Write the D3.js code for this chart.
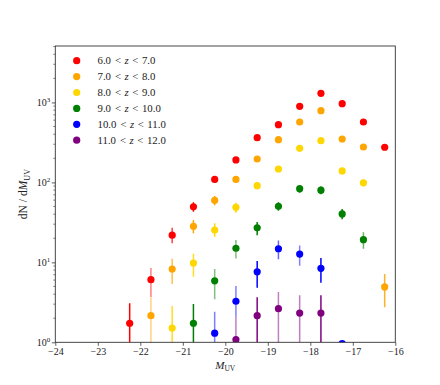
<!DOCTYPE html>
<html>
<head>
<meta charset="utf-8">
<script src="https://cdn.jsdelivr.net/npm/d3@7/dist/d3.min.js"></script>
<style>
  html, body { margin: 0; padding: 0; background: #fff; }
  svg { display: block; }
  text { font-family: "Liberation Serif", "DejaVu Serif", serif; fill: #222; }
</style>
</head>
<body>
<svg id="chart" width="440" height="385"></svg>
<script>
// ---------------- data ----------------
const bins = [-22.25, -21.75, -21.25, -20.75, -20.25, -19.75, -19.25, -18.75, -18.25, -17.75, -17.25, -16.75, -16.25];
const xTicks = [-24, -23, -22, -21, -20, -19, -18, -17, -16];
const yMajorTicks = [1, 10, 100, 1000];
const yTickExponents = ["0", "1", "2", "3"];

const seriesNames = ["6.0", "7.0", "8.0", "9.0", "10.0", "11.0"];
const seriesUpper = ["7.0", "8.0", "9.0", "10.0", "11.0", "12.0"];
const seriesColors = ["#ff0000", "#ffa500", "#ffd700", "#008000", "#0000ff", "#800080"];

// central values (null = no point)
const z6val  = [1.73, 6.07, 21.9, 49.5, 109, 191, 362, 527, 895, 1301, 965, 569, 275];
const z6lo   = [0.5, 3.68, 17.3, 43, 99, 178, 343, 504, 865, 1265, 934, 545, 258];
const z6hi   = [3.07, 8.5, 27.1, 56.4, 119, 204, 381, 550, 925, 1337, 996, 593, 292];

const z7val  = [null, 2.15, 8.26, 28.2, 59.7, 109, 196, 342, 569, 788, 349, 277, 4.92];
const z7lo   = [null, 0.5, 5.36, 23.1, 51.7, 99, 182, 324, 545, 760, 330, 260, 2.74];
const z7hi   = [null, 3.66, 11.1, 33.9, 67.6, 119, 210, 360, 593, 816, 368, 294, 7.15];

const z8val  = [null, null, 1.51, 9.82, 25.4, 48.8, 91, 147, 267, 332, 139, 99, null];
const z8lo   = [null, null, 0.5, 6.6, 20.9, 41.8, 82, 135, 251, 314, 127, 89, null];
const z8hi   = [null, null, 2.84, 12.8, 30.8, 55.7, 100, 159, 283, 350, 151, 109, null];

const z9val  = [null, null, null, 1.73, 5.88, 15.0, 27.0, 50.2, 83.4, 80, 40.3, 19.2, null];
const z9lo   = [null, null, null, 0.5, 3.45, 11.2, 21.8, 44.3, 74.3, 71, 34.6, 14.8, null];
const z9hi   = [null, null, null, 3.01, 8.26, 19.0, 32, 56.4, 91, 89, 46.5, 23.8, null];

const z10val = [null, null, null, null, 1.30, 3.26, 7.62, 14.8, 12.7, 8.43, 0.96, null, null];
const z10lo  = [null, null, null, null, 0.5, 2.09, 4.82, 10.9, 9.08, 5.57, 0.5, null, null];
const z10hi  = [null, null, null, null, 2.41, 5.06, 10.4, 18.7, 16.3, 11.3, 1.02, null, null];

const z11val = [null, null, null, null, null, 1.08, 2.15, 2.63, 2.32, 2.32, null, null, null];
const z11lo  = [null, null, null, null, null, 0.5, 0.5, 0.5, 0.5, 0.5, null, null, null];
const z11hi  = [null, null, null, null, null, 2.09, 3.66, 4.26, 3.87, 3.87, null, null, null];

// error-bar opacity per point (style)
const z6alpha  = [1, 0.5, 0.75, 1, 1, 1, 1, 1, 1, 1, 1, 1, 1];
const z7alpha  = [1, 0.5, 0.7, 1, 1, 1, 1, 1, 1, 1, 1, 1, 0.85];
const z8alpha  = [1, 1, 0.85, 0.85, 1, 1, 1, 1, 1, 1, 1, 1, 1];
const z9alpha  = [1, 1, 1, 1, 0.5, 0.5, 1, 1, 1, 1, 1, 0.6, 1];
const z10alpha = [1, 1, 1, 1, 0.5, 0.5, 1, 0.6, 0.5, 1, 1, 1, 1];
const z11alpha = [1, 1, 1, 1, 1, 0.5, 1, 0.5, 0.5, 1, 1, 1, 1];

const allVals = [z6val, z7val, z8val, z9val, z10val, z11val];
const allLo = [z6lo, z7lo, z8lo, z9lo, z10lo, z11lo];
const allHi = [z6hi, z7hi, z8hi, z9hi, z10hi, z11hi];
const allAlpha = [z6alpha, z7alpha, z8alpha, z9alpha, z10alpha, z11alpha];

// ---------------- layout ----------------
const L = 55.3, R = 395.3, T = 46, B = 342.3;
const svg = d3.select("#chart");

const x = d3.scaleLinear().domain([-24, -16]).range([L, R]);
const y = d3.scaleLog().domain([1, 5080]).range([B, T]);

svg.append("defs").append("clipPath").attr("id", "plotclip")
  .append("rect").attr("x", L).attr("y", T).attr("width", R - L).attr("height", B - T);

const plot = svg.append("g").attr("clip-path", "url(#plotclip)");

allVals.forEach((vals, s) => {
  const pts = bins.map((b, i) => ({ b, v: vals[i], lo: allLo[s][i], hi: allHi[s][i], a: allAlpha[s][i] }))
    .filter(d => d.v !== null);
  const g = plot.append("g");
  g.selectAll("line.err").data(pts).enter().append("line")
    .attr("class", "err")
    .attr("x1", d => x(d.b)).attr("x2", d => x(d.b))
    .attr("y1", d => y(Math.max(d.lo, 0.3))).attr("y2", d => y(d.hi))
    .attr("stroke", seriesColors[s]).attr("stroke-width", 1.5)
    .attr("stroke-opacity", d => d.a);
  g.selectAll("circle").data(pts).enter().append("circle")
    .attr("cx", d => x(d.b)).attr("cy", d => y(d.v)).attr("r", 3.6)
    .attr("fill", seriesColors[s]);
});

// axes
const xAxis = d3.axisBottom(x).tickValues(xTicks).tickSize(3.5).tickPadding(2)
  .tickFormat(d => "\u2212" + Math.abs(d));
const gx = svg.append("g").attr("transform", `translate(0,${B})`).call(xAxis);
gx.select(".domain").remove();
gx.selectAll(".tick line").attr("stroke", "#333").attr("stroke-width", 0.8);
gx.selectAll(".tick text").attr("font-size", 10).attr("fill", "#222")
  .style("font-family", "'Liberation Serif', serif");

// y minor ticks
const yMinor = [];
for (let e = 0; e < 4; e++) for (let m = 2; m <= 9; m++) {
  const v = m * Math.pow(10, e);
  if (v <= 5080) yMinor.push(v);
}
svg.append("g").selectAll("line").data(yMinor).enter().append("line")
  .attr("x1", L).attr("x2", L - 2).attr("y1", d => y(d)).attr("y2", d => y(d))
  .attr("stroke", "#333").attr("stroke-width", 0.6);

const gy = svg.append("g").attr("transform", `translate(${L},0)`)
  .call(d3.axisLeft(y).tickValues(yMajorTicks).tickSize(3.5).tickFormat(""));
gy.select(".domain").remove();
gy.selectAll(".tick line").attr("stroke", "#333").attr("stroke-width", 0.8);

const ylab = svg.append("g").selectAll("text").data(yMajorTicks).enter().append("text")
  .attr("x", L - 5).attr("y", d => y(d) + 3.5)
  .attr("text-anchor", "end").attr("font-size", 10);
ylab.append("tspan").text("10");
ylab.append("tspan").attr("dy", -4).attr("font-size", 7).text((d, i) => yTickExponents[i]);

// spines
svg.append("rect").attr("x", L).attr("y", T).attr("width", R - L).attr("height", B - T)
  .attr("fill", "none").attr("stroke", "#333").attr("stroke-width", 0.9);

// axis labels
const xl = svg.append("text").attr("x", (L + R) / 2).attr("y", 368.5)
  .attr("text-anchor", "middle").attr("font-size", 11);
xl.append("tspan").attr("font-style", "italic").text("M");
xl.append("tspan").attr("dy", 2.5).attr("font-size", 7.5).text("UV");

const yl = svg.append("text")
  .attr("transform", `translate(27,${(T + B) / 2}) rotate(-90)`)
  .attr("text-anchor", "middle").attr("font-size", 11.5);
yl.append("tspan").text("dN");
yl.append("tspan").attr("dx", 3).text("/");
yl.append("tspan").attr("dx", 3).text("d");
yl.append("tspan").attr("font-style", "italic").text("M");
yl.append("tspan").attr("dy", 2.5).attr("font-size", 8).text("UV");

// legend
const leg = svg.append("g");
seriesNames.forEach((n, i) => {
  const ly = 60.7 + i * 15.9;
  leg.append("circle").attr("cx", 76.7).attr("cy", ly).attr("r", 3.6).attr("fill", seriesColors[i]);
  const t = leg.append("text").attr("x", 97.5).attr("y", ly + 3.6).attr("font-size", 10.8);
  t.append("tspan").text(n);
  t.append("tspan").attr("dx", 4).text("<");
  t.append("tspan").attr("dx", 3.5).attr("font-style", "italic").text("z");
  t.append("tspan").attr("dx", 3.5).text("<");
  t.append("tspan").attr("dx", 3.5).text(seriesUpper[i]);
});
</script>
</body>
</html>
